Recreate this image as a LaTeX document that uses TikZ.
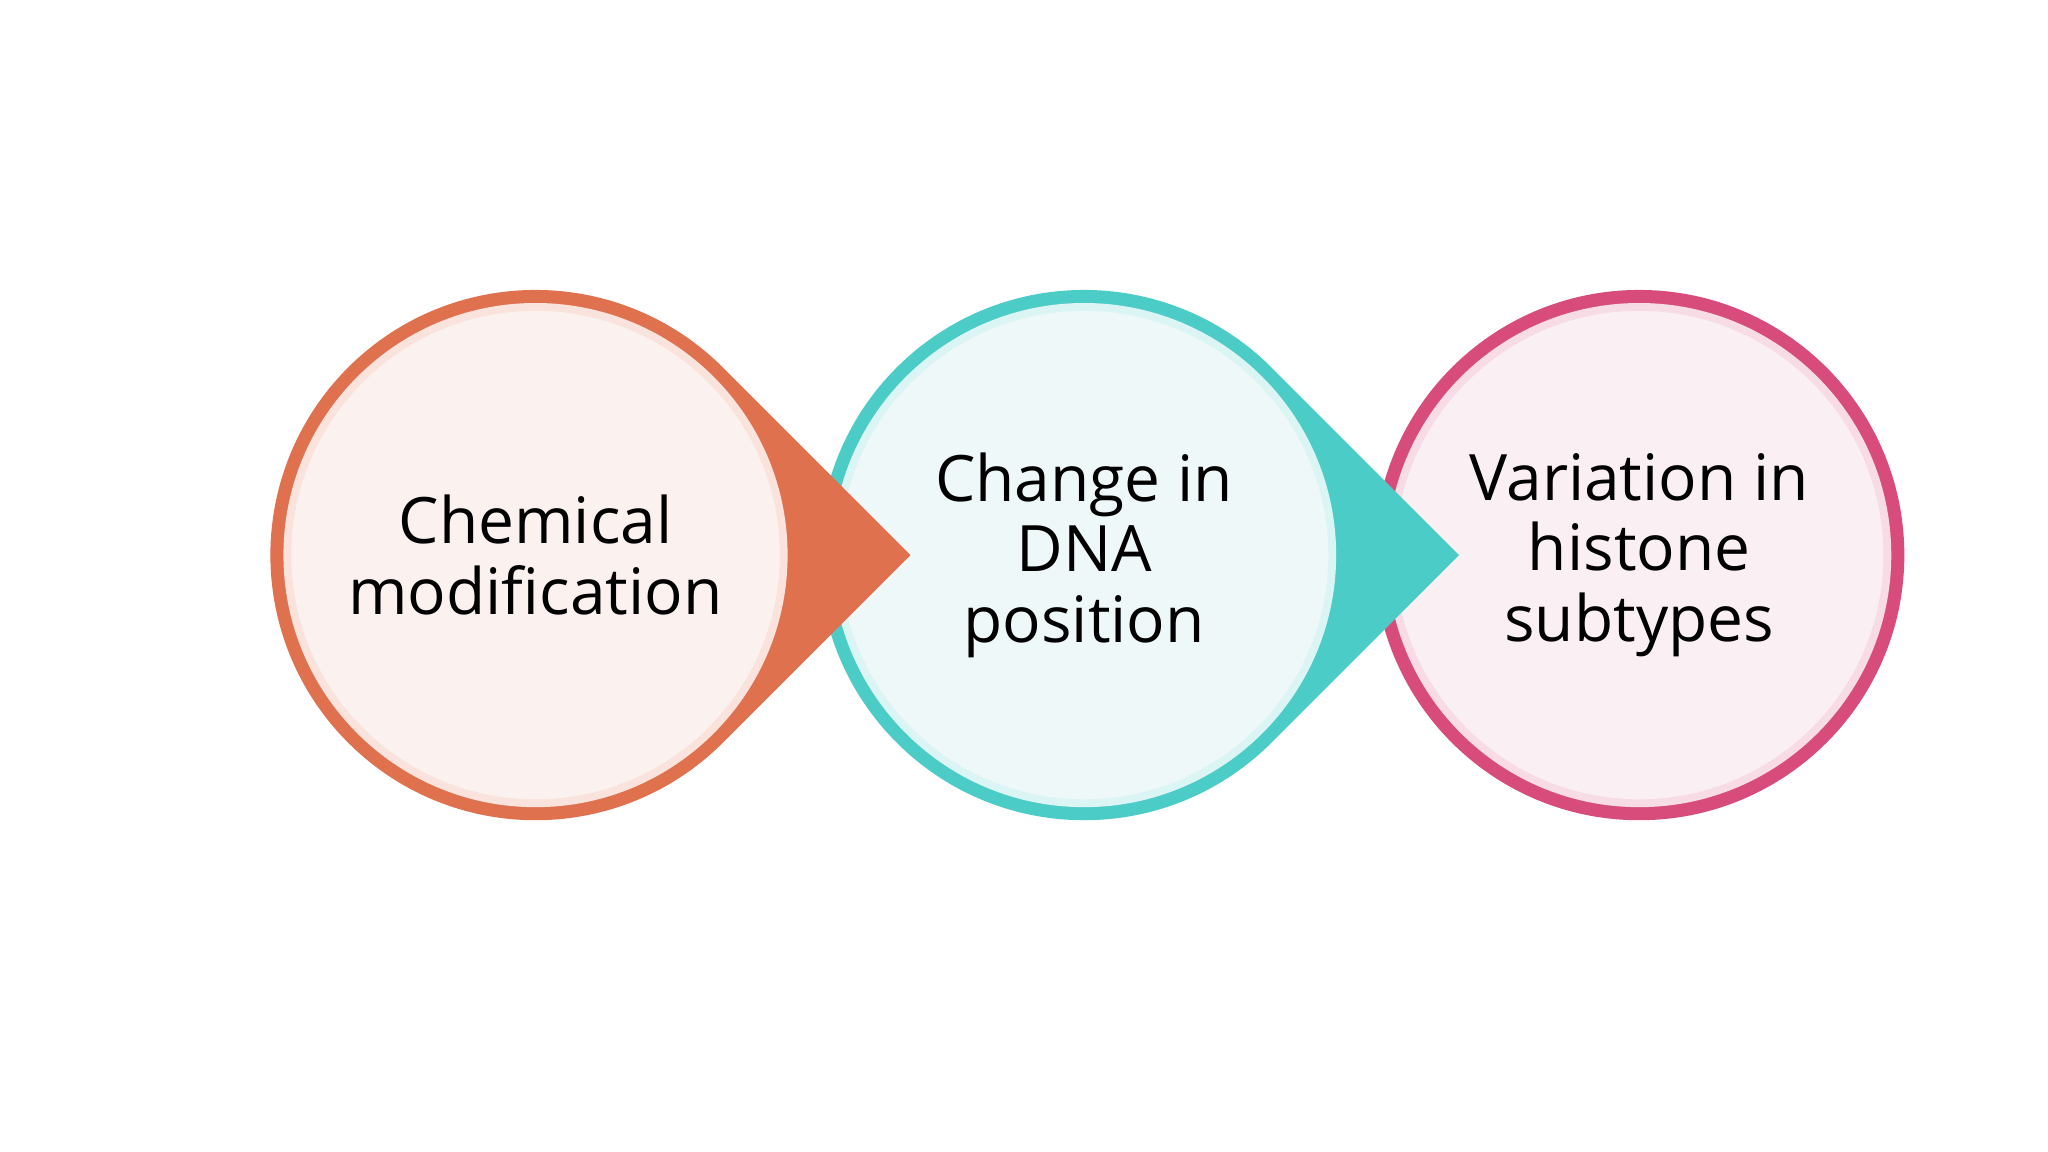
\documentclass[tikz,border=0pt]{standalone}
\usepackage{fontspec}
\setmainfont{Open Sans}
\definecolor{c1}{HTML}{E0714F}
\definecolor{c2}{HTML}{4CCCC6}
\definecolor{c3}{HTML}{D84C7C}
\definecolor{f1}{HTML}{FBF2F0}
\definecolor{f2}{HTML}{EFF8F9}
\definecolor{f3}{HTML}{FAF0F4}
\tikzset{lbl/.style={align=center,font=\fontsize{24.5}{27}\selectfont,text=black}}
\newcommand{\mydrop}[4]{% center name, ring color, fill color, radius
  \fill[#2] ($(#1)+(#4*1.414,0)$) -- ($(#1)+(45:#4)$) arc[start angle=45,end angle=315,radius=#4] -- cycle;
  \fill[#3,draw=white!80!#2,line width=3] (#1) circle[radius=#4-13];
}
\newcommand{\myring}[4]{%
  \fill[#2] (#1) circle[radius=#4];
  \fill[#3,draw=white!80!#2,line width=3] (#1) circle[radius=#4-13];
}
\usetikzlibrary{calc}
\begin{document}
\begin{tikzpicture}[x=0.5pt,y=0.5pt]
\useasboundingbox[fill=white] (0,0) rectangle (1568,882);
\coordinate (p1) at (410,457);
\coordinate (p2) at (830,457);
\coordinate (p3) at (1255,457);
\myring{p3}{c3}{f3}{203}
\mydrop{p2}{c2}{f2}{203}
\mydrop{p1}{c1}{f1}{203}
\node[lbl] (t1) at (p1) {Chemical\\modification};
\node[lbl] (t2) at (p2) {Change in\\DNA\\position};
\node[lbl] (t3) at (p3) {Variation in\\histone\\subtypes};
\end{tikzpicture}
\end{document}
